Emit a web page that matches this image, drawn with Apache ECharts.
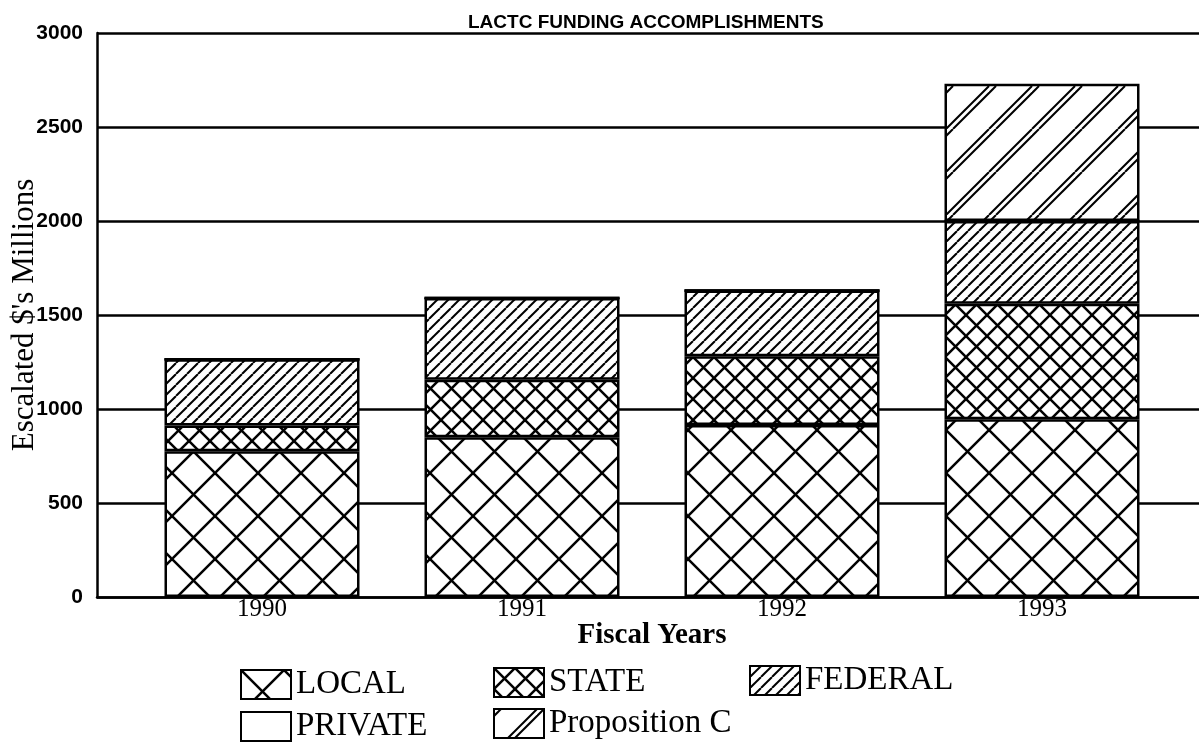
<!DOCTYPE html>
<html>
<head>
<meta charset="utf-8">
<script src="https://cdn.jsdelivr.net/npm/echarts@6/dist/echarts.min.js"></script>
<style>
html, body { margin: 0; padding: 0; background: #fff; }
#main { width: 1199px; height: 745px; }
</style>
</head>
<body>
<div id="main"></div>
<script>
// values in $ millions
var years = ['1990', '1991', '1992', '1993'];
var local = [775, 850, 915, 945];
var state = [137, 305, 365, 615];
var federal = [353, 435, 350, 440];
var privateFunds = [0, 0, 0, 0];
var propC = [0, 0, 0, 730];

// black hatching on white, as a repeating canvas tile
function hatch(size, offsets, slash, back, lw) {
    var c = document.createElement('canvas');
    c.width = size;
    c.height = size;
    var ctx = c.getContext('2d');
    ctx.fillStyle = '#fff';
    ctx.fillRect(0, 0, size, size);
    ctx.strokeStyle = '#000';
    ctx.lineWidth = lw;
    offsets.forEach(function (off) {
        for (var k = -2; k <= 2; k++) {
            var s = off + k * size;
            if (slash) {
                ctx.beginPath();
                ctx.moveTo(s, 0);
                ctx.lineTo(s - size, size);
                ctx.stroke();
            }
            if (back) {
                ctx.beginPath();
                ctx.moveTo(s, 0);
                ctx.lineTo(s + size, size);
                ctx.stroke();
            }
        }
    });
    return { image: c, repeat: 'repeat' };
}

window.onload = function () {
    var myChart = echarts.init(document.getElementById('main'));

    function bar(name, data, color) {
        return {
            name: name,
            type: 'bar',
            stack: 'total',
            xAxisIndex: 0,
            yAxisIndex: 0,
            barWidth: 195,
            data: data,
            itemStyle: { color: color, borderColor: '#000', borderWidth: 2.5 }
        };
    }

    // one legend per entry so the two rows line up in columns
    function legendItem(name, left, top) {
        return {
            data: [name],
            left: left,
            top: top,
            icon: 'rect',
            itemWidth: 50,
            itemHeight: 29,
            padding: 0,
            textStyle: { fontFamily: 'Liberation Serif', fontSize: 33, color: '#000', padding: [9, 0, 0, 0] }
        };
    }

    var option = {
        backgroundColor: '#fff',
        animation: false,
        title: {
            text: 'LACTC FUNDING ACCOMPLISHMENTS',
            left: 463,
            top: 8,
            textStyle: { fontFamily: 'Liberation Sans', fontSize: 19, fontWeight: 'bold', color: '#000' }
        },
        legend: [
            legendItem('LOCAL', 240, 668),
            legendItem('STATE', 493, 666),
            legendItem('FEDERAL', 749, 664),
            legendItem('PRIVATE', 240, 710),
            legendItem('Proposition C', 493, 707)
        ],
        grid: [
            { left: 132, right: 27, top: 33, bottom: 148, outerBoundsMode: 'none' },
            { left: 97, right: 0, top: 33, bottom: 148, outerBoundsMode: 'none' }
        ],
        xAxis: [{
            type: 'category',
            gridIndex: 0,
            data: years,
            axisLine: { show: false },
            axisTick: { show: false },
            axisLabel: { fontFamily: 'Liberation Serif', fontSize: 25, color: '#000', margin: 0 },
            name: 'Fiscal Years',
            nameLocation: 'middle',
            nameGap: 24,
            nameMoveOverlap: false,
            nameTextStyle: { fontFamily: 'Liberation Serif', fontSize: 29, fontWeight: 'bold', color: '#000' }
        }, {
            type: 'value',
            gridIndex: 1,
            min: 0,
            max: 1,
            axisLine: { show: true, onZero: false, lineStyle: { color: '#000', width: 2.5 } },
            axisTick: { show: false },
            axisLabel: { show: false },
            splitLine: { show: false }
        }],
        yAxis: [{
            type: 'value',
            gridIndex: 0,
            min: 0,
            max: 3000,
            interval: 500,
            show: false
        }, {
            type: 'value',
            gridIndex: 1,
            min: 0,
            max: 3000,
            interval: 500,
            axisLine: { show: true, lineStyle: { color: '#000', width: 2.5 } },
            axisTick: { show: false },
            axisLabel: {
                fontFamily: 'Liberation Sans', fontSize: 21, fontWeight: 'bold', color: '#000', margin: 14,
                formatter: function (v) { return String(v); }
            },
            splitLine: { show: true, lineStyle: { color: '#000', width: 2.5 } },
            name: "Escalated $'s Millions",
            nameLocation: 'middle',
            nameGap: 57,
            nameMoveOverlap: false,
            nameTextStyle: { fontFamily: 'Liberation Serif', fontSize: 31, color: '#000' }
        }],
        series: [
            bar('LOCAL', local, hatch(43, [0], true, true, 2.5)),
            bar('STATE', state, hatch(21, [0], true, true, 2.5)),
            bar('FEDERAL', federal, hatch(11, [0], true, false, 2)),
            bar('PRIVATE', privateFunds, '#fff'),
            bar('Proposition C', propC, hatch(43, [0, 7], true, false, 2))
        ]
    };
    myChart.setOption(option);
    window.addEventListener('resize', function () {
        myChart.resize();
    });
};
</script>
</body>
</html>
